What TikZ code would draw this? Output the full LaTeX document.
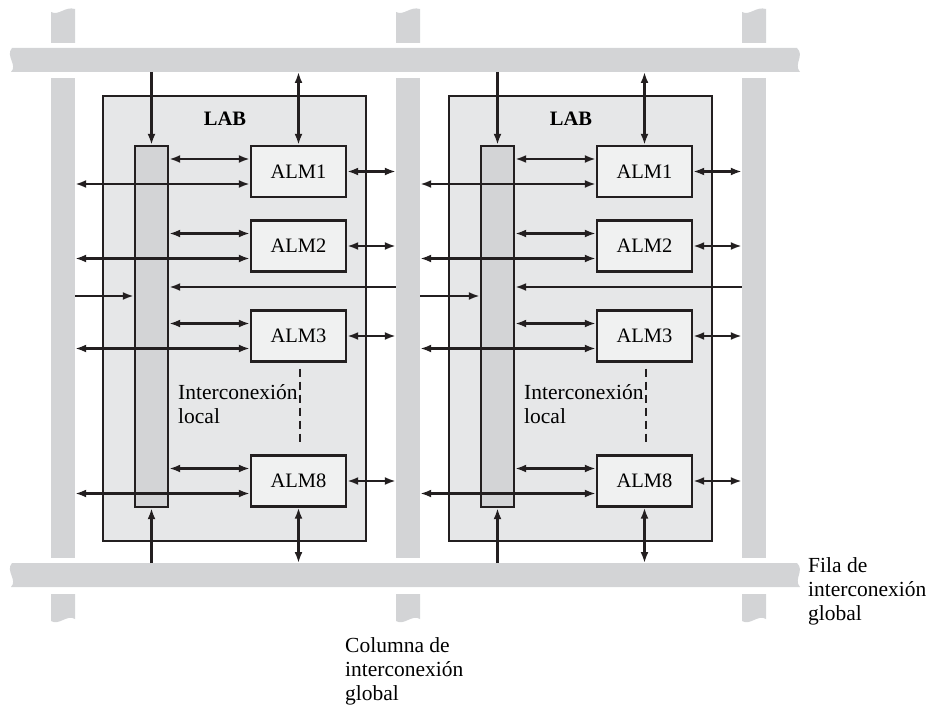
\documentclass[tikz,border=0pt]{standalone}
\usepackage{fontspec}
\setmainfont{Liberation Serif}
\usetikzlibrary{arrows.meta,calc}
\definecolor{busgray}{RGB}{211,212,214}
\definecolor{labgray}{RGB}{230,231,232}
\definecolor{bargray}{RGB}{211,212,214}
\definecolor{almgray}{RGB}{240,241,241}
\definecolor{ink}{RGB}{35,31,32}
\begin{document}
\begin{tikzpicture}[x=1pt,y=-1pt,
  every node/.style={inner sep=0pt},
  busfill/.style={fill=busgray, draw=none},
  colnode/.style={fill=busgray, draw=none, minimum width=24pt, minimum height=480pt, inner sep=0pt},
  labbox/.style={fill=labgray, draw=ink, line width=2.4pt, minimum width=263pt, minimum height=445pt},
  barbox/.style={fill=bargray, draw=ink, line width=2.4pt, minimum width=33pt, minimum height=361pt},
  almbox/.style={fill=almgray, draw=ink, line width=2.4pt, minimum width=95pt, minimum height=51pt, font=\fontsize{20.5}{24}\selectfont},
  ltip/.tip={Latex[length=11pt,width=8pt]},
  wire/.style={draw=ink, line width=2.3pt},
  one/.style={wire, -ltip},
  dbl/.style={wire, ltip-ltip},
  lbl/.style={anchor=base west, align=left, font=\fontsize{21.5}{24}\selectfont}
]
\useasboundingbox (0,0) rectangle (928,706);
% global rows
\path[busfill] (12,48) -- (797,48) .. controls (805,56) and (793,64) .. (800,72) -- (11,72) .. controls (18,65) and (5,56) .. (12,48) -- cycle;
\path[busfill] (12,563) -- (797,563) .. controls (805,571) and (793,579) .. (800,587) -- (11,587) .. controls (18,580) and (5,571) .. (12,563) -- cycle;
\coordinate (topbus) at (400,72);
\coordinate (botbus) at (400,563);
% global columns
\foreach \L in {51,396,742}{
  \path[busfill] (\L,12) .. controls (\L+8,16) and (\L+14,6) .. (\L+24,9) -- (\L+24,43) -- (\L,43) -- cycle;
  \path[busfill] (\L,594) -- (\L+24,594) -- (\L+24,619) .. controls (\L+16,614) and (\L+8,626) .. (\L,621) -- cycle;
}
\node[colnode] (col1) at (63,318) {};
\node[colnode] (col2) at (408,318) {};
\node[colnode] (col3) at (754,318) {};
% LABs
\foreach \dx/\i/\L/\R in {0/a/1/2,346/b/2/3}{
  \node[labbox] (lab\i) at (\dx+234.5,318.5) {};
  \node[font=\bfseries\fontsize{20.5}{24}\selectfont] (lablbl\i) at (\dx+225,119) {LAB};
  \node[barbox] (bar\i) at (\dx+151.5,326.5) {};
  \node[almbox] (alm1\i) at (\dx+298.5,171.5) {ALM1};
  \node[almbox] (alm2\i) at (\dx+298.5,246) {ALM2};
  \node[almbox] (alm3\i) at (\dx+298.5,336) {ALM3};
  \node[almbox] (alm8\i) at (\dx+298.5,481) {ALM8};
  \foreach \j in {1,2,3,8}{
    \coordinate (u\j\i) at ($(alm\j\i.west)+(0,-12.5)$);
    \coordinate (l\j\i) at ($(alm\j\i.west)+(0,12.5)$);
    \draw[dbl] (bar\i.east |- u\j\i) -- (u\j\i);
    \draw[dbl] (col\L.east |- l\j\i) -- (l\j\i);
    \draw[dbl] (alm\j\i.east) -- (alm\j\i.east -| col\R.west);
  }
  \coordinate (h1\i) at (\dx+200,287);
  \coordinate (h2\i) at (\dx+100,296);
  \draw[one] (col\R.west |- h1\i) -- (bar\i.east |- h1\i);
  \draw[one] (col\L.east |- h2\i) -- (bar\i.west |- h2\i);
  \draw[one] (bar\i.north |- topbus) -- (bar\i.north);
  \draw[dbl] (alm1\i.north |- topbus) -- (alm1\i.north);
  \draw[one] (bar\i.south |- botbus) -- (bar\i.south);
  \draw[dbl] (alm8\i.south) -- (alm8\i.south |- botbus);
  \draw[ink, line width=1.3pt, dash pattern=on 8pt off 5pt] ($(alm3\i.south)+(1.5,6)$) -- ($(alm8\i.north)+(1.5,-11)$);
  \node[lbl] (loc\i) at (\dx+178,423) {Interconexión\\local};
}
\node[lbl] (fila) at (808,620) {Fila de\\interconexión\\global};
\node[lbl] (columna) at (345,700) {Columna de\\interconexión\\global};
\end{tikzpicture}
\end{document}
